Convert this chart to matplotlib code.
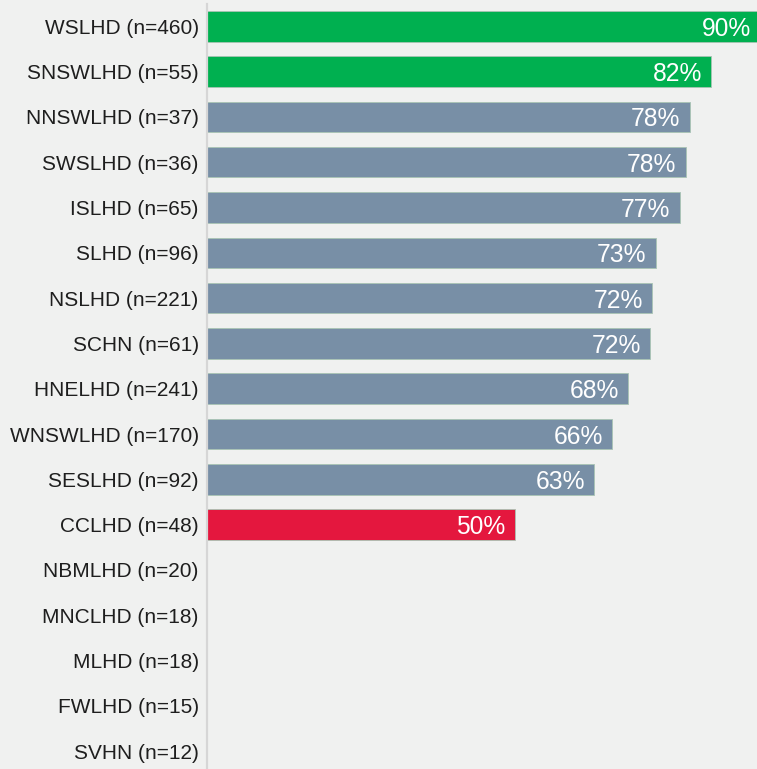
import matplotlib
matplotlib.use("Agg")
import matplotlib.pyplot as plt

categories = ["WSLHD (n=460)", "SNSWLHD (n=55)", "NNSWLHD (n=37)", "SWSLHD (n=36)",
              "ISLHD (n=65)", "SLHD (n=96)", "NSLHD (n=221)", "SCHN (n=61)",
              "HNELHD (n=241)", "WNSWLHD (n=170)", "SESLHD (n=92)", "CCLHD (n=48)",
              "NBMLHD (n=20)", "MNCLHD (n=18)", "MLHD (n=18)", "FWLHD (n=15)", "SVHN (n=12)"]
values = [90.0, 82.0, 78.5, 77.9, 76.9, 73.0, 72.4, 72.1, 68.5, 65.9, 63.0, 50.0,
          None, None, None, None, None]
labels = ["90%", "82%", "78%", "78%", "77%", "73%", "72%", "72%", "68%", "66%", "63%", "50%",
          "", "", "", "", ""]
groups = ["high", "high", "mid", "mid", "mid", "mid", "mid", "mid", "mid", "mid", "mid", "low",
          "none", "none", "none", "none", "none"]
palette = {"high": "#00b050", "mid": "#788fa6", "low": "#e4173e"}

bg = "#f0f1f0"
W, H = 757, 769
fig = plt.figure(figsize=(W / 100, H / 100), dpi=100, facecolor=bg)
ax_left = 207.0 / W
ax_top_px = 4.0
ax = fig.add_axes([ax_left, 0, 1 - ax_left, 1 - ax_top_px / H], facecolor=bg)

pitch = 45.3
c0 = 26.3
y_top = -(c0 - ax_top_px) / pitch
y_bot = (H - c0) / pitch
ax.set_ylim(y_bot, y_top)
px_per_unit = 6.15
ax.set_xlim(0, (W - 207.0) / px_per_unit)

font = "Liberation Sans"
for i, (v, lab, g) in enumerate(zip(values, labels, groups)):
    if v is None:
        continue
    ax.barh(i, v, height=0.673, color=palette[g], edgecolor="#a9c4b4", linewidth=0.6)
    ax.text(v - 9.5 / px_per_unit, i, lab, ha="right", va="center_baseline", color="white",
            fontsize=17.7, family=font)

ax.set_yticks(range(len(categories)))
ax.set_yticklabels(categories, fontsize=15, family=font, color="#1e1e1e")
for t in ax.get_yticklabels():
    t.set_verticalalignment("center_baseline")
ax.tick_params(axis="y", length=0, pad=6)
ax.set_xticks([])
for s in ["top", "right", "bottom"]:
    ax.spines[s].set_visible(False)
ax.spines["left"].set_color("#d6d6d6")
ax.spines["left"].set_linewidth(1.6)

fig.savefig("out.png", dpi=100, facecolor=bg)
